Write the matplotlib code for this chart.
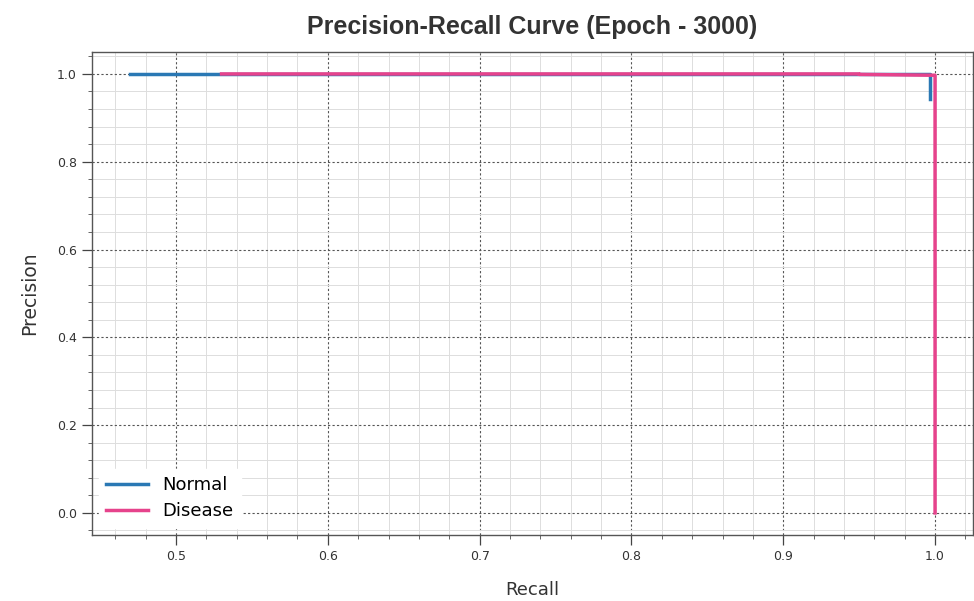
import matplotlib
matplotlib.use("Agg")
import matplotlib.pyplot as plt
from matplotlib.ticker import MultipleLocator

# Data
normal_recall = [0.47, 0.90, 0.9967, 0.9967, 0.9967]
normal_precision = [1.0, 1.0, 1.0, 0.943, 0.943]
disease_recall = [0.53, 0.95, 0.95, 0.9995, 1.0, 1.0]
disease_precision = [1.0, 1.0, 0.999, 0.997, 0.997, 0.0]
labels = ["Normal", "Disease"]
colors = ["#2a78b4", "#e6438c"]

fig = plt.figure(figsize=(9.74, 6.01), dpi=100)
ax = fig.add_axes([0.0945, 0.110, 0.9045, 0.8035])

ax.plot(normal_recall, normal_precision, color=colors[0], lw=2.5, label=labels[0], zorder=3)
ax.plot(disease_recall, disease_precision, color=colors[1], lw=2.5, label=labels[1], zorder=4)

ax.set_xlim(0.4447, 1.025)
ax.set_ylim(-0.05, 1.05)
ax.xaxis.set_major_locator(MultipleLocator(0.1))
ax.xaxis.set_minor_locator(MultipleLocator(0.02))
ax.yaxis.set_major_locator(MultipleLocator(0.2))
ax.yaxis.set_minor_locator(MultipleLocator(0.04))

ax.grid(which="major", color="#555555", linestyle=(0, (2, 2)), linewidth=0.8)
ax.grid(which="minor", color="#dddddd", linestyle="-", linewidth=0.7)
ax.set_axisbelow(True)

ax.tick_params(which="major", direction="out", length=7, width=0.9, colors="#444444",
               labelsize=9, labelcolor="#333333", pad=4)
ax.tick_params(which="minor", direction="out", length=3, width=0.7, colors="#666666")
for s in ax.spines.values():
    s.set_color("#555555")
    s.set_linewidth(1.0)

ax.set_xlabel("Recall", fontsize=13, color="#333333", labelpad=13)
ax.set_ylabel("Precision", fontsize=13.5, color="#333333", labelpad=13)
ax.set_title("Precision-Recall Curve (Epoch - 3000)", fontsize=18, fontweight="bold",
             family="Liberation Sans", color="#333333", pad=13)

leg = ax.legend(loc="lower left", fontsize=13, frameon=True, framealpha=1.0,
                edgecolor="white", facecolor="white", handlelength=2.3,
                labelspacing=0.45, borderaxespad=0.4)

fig.savefig("out.png", dpi=100)
